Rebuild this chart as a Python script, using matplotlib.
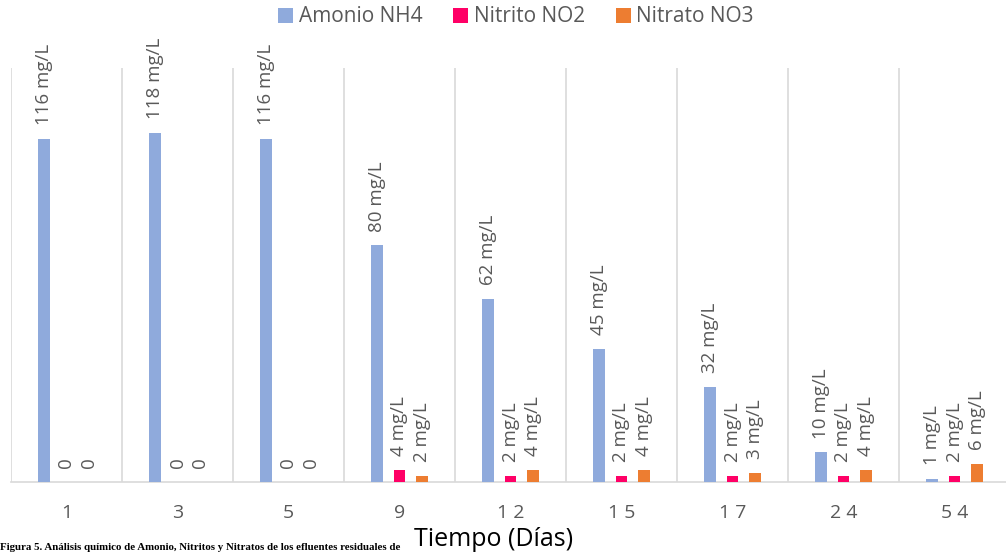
import matplotlib
matplotlib.use("Agg")
import matplotlib.pyplot as plt
import numpy as np

categories = ["1", "3", "5", "9", "1 2", "1 5", "1 7", "2 4", "5 4"]
amonio = [116, 118, 116, 80, 62, 45, 32, 10, 1]
nitrito = [0, 0, 0, 4, 2, 2, 2, 2, 2]
nitrato = [0, 0, 0, 2, 4, 4, 3, 4, 6]
series_names = ["Amonio NH4", "Nitrito NO2", "Nitrato NO3"]
colors = ["#8FAADC", "#FF0066", "#ED7D31"]

W, H = 1006, 553
fig = plt.figure(figsize=(W / 100, H / 100), dpi=100)
x0, x1 = 11, 1010
y_top, y_base = 68, 482
ax = fig.add_axes([x0 / W, 1 - y_base / H, (x1 - x0) / W, (y_base - y_top) / H])

font = "Open Sans"
grey = "#595959"
n = len(categories)
x = np.arange(n)
bw = 0.108
sp = 0.207
for i, (vals, c, name) in enumerate(zip([amonio, nitrito, nitrato], colors, series_names)):
    pos = x + (i - 1) * sp
    ax.bar(pos, vals, width=bw, color=c, label=name, zorder=3)
    for p, v in zip(pos, vals):
        txt = "0" if v == 0 else f"{v} mg/L"
        ax.annotate(txt, (p, v), xytext=(0, 10), textcoords="offset points",
                    rotation=90, ha="center", va="bottom", color=grey,
                    fontsize=13.5, family=font)

ax.set_xlim(-0.5, n - 0.5)
ax.set_ylim(0, 140)
for b in np.arange(-0.5, n, 1.0):
    ax.axvline(b, color="#D9D9D9", lw=1.2, zorder=1)
for s in ["top", "right", "left"]:
    ax.spines[s].set_visible(False)
ax.spines["bottom"].set_color("#D9D9D9")
ax.spines["bottom"].set_linewidth(1.2)
ax.set_yticks([])
ax.set_xticks(x)
ax.set_xticklabels(categories, family=font, fontsize=14, color=grey)
ax.tick_params(axis="x", length=0, pad=16)

fig.text(494 / W, 1 - 540 / H, "Tiempo (Días)", ha="center", va="center",
         family=font, fontsize=18, color="black")

leg = fig.legend(loc="center", bbox_to_anchor=(516 / W, 1 - 17 / H), ncol=3,
                 frameon=False, prop={"family": font, "size": 15},
                 handlelength=0.72, handleheight=0.72, handletextpad=0.25,
                 columnspacing=1.5, borderpad=0.1)
for t in leg.get_texts():
    t.set_color(grey)

fig.text(0.0, 1 - 552 / H,
         "Figura 5. Análisis químico de Amonio, Nitritos y Nitratos de los efluentes residuales de",
         ha="left", va="bottom", fontsize=7.8, fontweight="bold", family="Liberation Serif")

fig.savefig("out.png", dpi=100)
